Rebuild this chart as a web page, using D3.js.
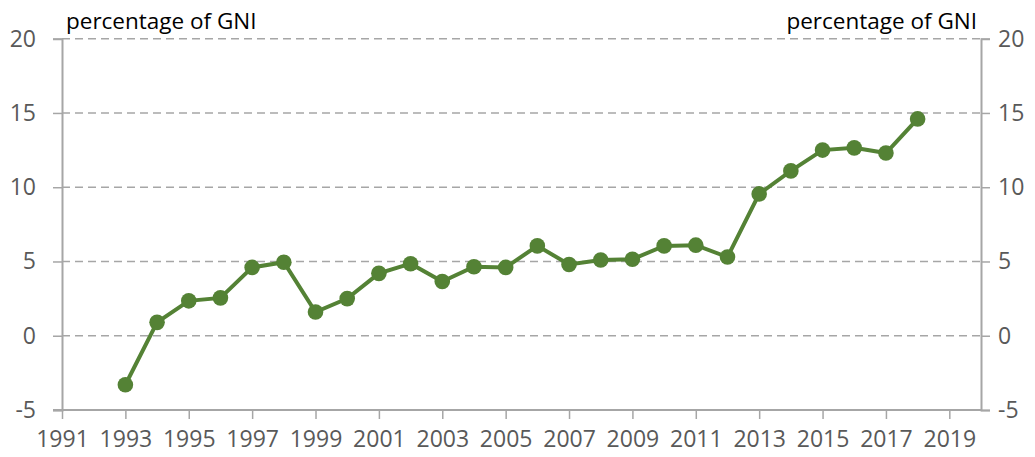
<!DOCTYPE html>
<html>
<head>
<meta charset="utf-8">
<script src="https://d3js.org/d3.v7.min.js"></script>
<style>
  body { margin: 0; background: #fff; }
  svg text { font-family: "Open Sans", "Liberation Sans", sans-serif; }
</style>
</head>
<body>
<div id="chart"></div>
<script>

// data
var years = [1993, 1994, 1995, 1996, 1997, 1998, 1999, 2000, 2001, 2002, 2003, 2004, 2005,
             2006, 2007, 2008, 2009, 2010, 2011, 2012, 2013, 2014, 2015, 2016, 2017, 2018];
var values = [-3.3, 0.9, 2.35, 2.55, 4.6, 4.95, 1.6, 2.5, 4.2, 4.85, 3.65, 4.65, 4.6,
              6.05, 4.8, 5.1, 5.15, 6.05, 6.1, 5.3, 9.55, 11.1, 12.5, 12.65, 12.3, 14.6];
var yTicks = [-5, 0, 5, 10, 15, 20];
var xTicks = [1991, 1993, 1995, 1997, 1999, 2001, 2003, 2005, 2007, 2009, 2011, 2013, 2015, 2017, 2019];
var axisTitle = "percentage of GNI";

// plot frame
var W = 1035, H = 457;
var plotLeft = 62, plotRight = 981, plotTop = 38.7, plotBottom = 410;

var svg = d3.select("#chart").append("svg")
    .attr("width", W)
    .attr("height", H);

var x = d3.scaleLinear().domain([1991, 2020]).range([plotLeft, plotRight]);
var y = d3.scaleLinear().domain([-5, 20]).range([plotBottom, plotTop]);

var grey = "#a6a6a6";
var plain = function(d) { return String(d); };   // keep the ascii hyphen on -5

// gridlines
svg.append("g")
  .selectAll("line")
  .data(yTicks.filter(function(d) { return d > -5; }))
  .enter().append("line")
    .attr("x1", plotLeft).attr("x2", plotRight)
    .attr("y1", function(d) { return y(d); })
    .attr("y2", function(d) { return y(d); })
    .style("stroke", grey)
    .style("stroke-width", 1.5)
    .style("stroke-dasharray", "8,5");

// left axis
var yLeft = svg.append("g")
    .attr("transform", "translate(" + plotLeft + ",0)")
    .call(d3.axisLeft(y).tickValues(yTicks).tickFormat(plain).tickSize(9).tickPadding(17));

// right axis
var yRight = svg.append("g")
    .attr("transform", "translate(" + plotRight + ",0)")
    .call(d3.axisRight(y).tickValues(yTicks).tickFormat(plain).tickSize(9).tickPadding(8));

// bottom axis
var xAxis = svg.append("g")
    .attr("transform", "translate(0," + plotBottom + ")")
    .call(d3.axisBottom(x).tickValues(xTicks).tickFormat(plain).tickSize(9).tickPadding(12));

[yLeft, yRight, xAxis].forEach(function(g) {
  g.select(".domain").style("stroke", grey).style("stroke-width", 2);
  g.selectAll(".tick line").style("stroke", grey).style("stroke-width", 1.5);
  g.selectAll(".tick text")
    .style("fill", "#595959")
    .style("font-size", "23px")
    .style("font-family", "'Open Sans', 'Liberation Sans', sans-serif");
});
xAxis.select(".domain").attr("d", "M" + (plotLeft - 9) + ",0H" + plotRight);

// axis titles
svg.append("text")
    .attr("x", 66).attr("y", 29)
    .style("font-size", "22.5px")
    .style("fill", "#000")
    .text(axisTitle);
svg.append("text")
    .attr("x", 977).attr("y", 29)
    .style("text-anchor", "end")
    .style("font-size", "22.5px")
    .style("fill", "#000")
    .text(axisTitle);

// the series
var pts = years.map(function(d, i) { return {year: d, value: values[i]}; });

svg.append("path")
    .datum(pts)
    .attr("d", d3.line()
      .x(function(d) { return x(d.year); })
      .y(function(d) { return y(d.value); }))
    .style("fill", "none")
    .style("stroke", "#548235")
    .style("stroke-width", 4);

svg.append("g")
  .selectAll("circle")
  .data(pts)
  .enter().append("circle")
    .attr("cx", function(d) { return x(d.year); })
    .attr("cy", function(d) { return y(d.value); })
    .attr("r", 7.8)
    .style("fill", "#548235");

</script>
</body>
</html>
